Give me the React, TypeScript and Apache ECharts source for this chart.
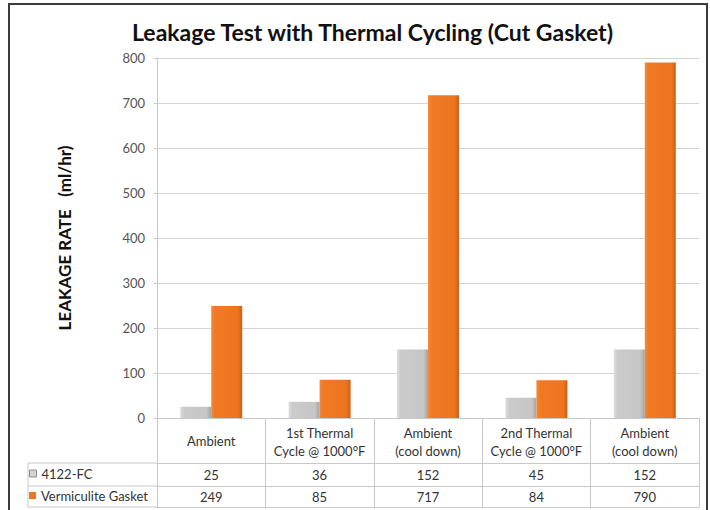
import React, { useEffect, useRef } from "react";
import * as echarts from "echarts";

const TITLE = "Leakage Test with Thermal Cycling (Cut Gasket)";
const Y_NAME = "LEAKAGE RATE   (ml/hr)";
const categories = [
  "Ambient",
  "1st Thermal\nCycle @ 1000°F",
  "Ambient\n(cool down)",
  "2nd Thermal\nCycle @ 1000°F",
  "Ambient\n(cool down)",
];
const seriesNames = ["4122-FC", "Vermiculite Gasket"];
const fc4122 = [25, 36, 152, 45, 152];
const vermiculite = [249, 85, 717, 84, 790];
const yMin = 0;
const yMax = 800;
const yInterval = 100;

const FONT = "Lato, 'Open Sans', sans-serif";
const LINE = "#c8c8c8";

export default function App() {
  const ref = useRef<HTMLDivElement>(null);
  useEffect(() => {
    document.body.style.margin = "0";
    if (!ref.current) return;
    const chart = echarts.init(ref.current, null, { renderer: "svg" });

    const gridLeft = 157;
    const gridTop = 58;
    const gridRight = 11;
    const gridBottom = 92;
    const rowH = [45, 23, 21];
    const axisY = 510 - gridBottom;
    const tableLeft = 28;

    const grayGrad = new echarts.graphic.LinearGradient(0, 0, 1, 0, [
      { offset: 0, color: "#dedede" },
      { offset: 0.12, color: "#cbcbcb" },
      { offset: 0.85, color: "#c6c6c6" },
      { offset: 1, color: "#a3a3a3" },
    ]);
    const orangeGrad = new echarts.graphic.LinearGradient(0, 0, 1, 0, [
      { offset: 0, color: "#f48a3c" },
      { offset: 0.12, color: "#f07a24" },
      { offset: 0.85, color: "#ee7520" },
      { offset: 1, color: "#cf5f14" },
    ]);

    const tableAxis = (offset: number, tickLen: number, vals: number[] | null, lh: number) => ({
      type: "category",
      gridIndex: 0,
      position: "bottom",
      offset,
      data: categories,
      boundaryGap: true,
      axisLine: { show: true, lineStyle: { color: LINE, width: 1 } },
      axisTick: { show: tickLen > 0, length: tickLen, interval: 0, lineStyle: { color: LINE } },
      axisLabel: vals
        ? {
            show: true,
            interval: 0,
            margin: 0,
            formatter: (_v: string, i: number) => String(vals[i]),
            fontFamily: FONT,
            fontSize: 13,
            color: "#333",
            lineHeight: lh,
          }
        : { show: false },
      splitLine: { show: false },
    });

    const legendText = { fontFamily: FONT, fontSize: 13, color: "#333" };

    const option: any = {
      animation: false,
      backgroundColor: "#fff",
      title: {
        text: TITLE,
        left: 127,
        top: 15,
        textStyle: { fontFamily: FONT, fontSize: 23, fontWeight: "bold", color: "#111" },
      },
      legend: [
        {
          left: 29,
          top: 467,
          padding: 0,
          itemWidth: 7,
          itemHeight: 7,
          itemGap: 0,
          icon: "rect",
          textStyle: legendText,
          data: [
            { name: seriesNames[0], itemStyle: { color: "#d4d4d4", borderColor: "#8f8f8f", borderWidth: 1 } },
          ],
        },
        {
          left: 29,
          top: 489,
          padding: 0,
          itemWidth: 7,
          itemHeight: 7,
          itemGap: 0,
          icon: "rect",
          textStyle: legendText,
          data: [{ name: seriesNames[1], itemStyle: { color: "#f07622" } }],
        },
      ],
      grid: { left: gridLeft, right: gridRight, top: gridTop, bottom: gridBottom, containLabel: false },
      xAxis: [
        {
          type: "category",
          data: categories,
          boundaryGap: true,
          axisLine: { show: true, lineStyle: { color: LINE } },
          axisTick: { show: true, length: rowH[0], interval: 0, lineStyle: { color: LINE } },
          axisLabel: {
            interval: 0,
            margin: 6,
            fontFamily: FONT,
            fontSize: 13,
            color: "#333",
            formatter: (v: string) =>
              v.includes("\n")
                ? v.split("\n").map((s) => `{b|${s}}`).join("\n")
                : `{a|${v}}`,
            rich: {
              a: { fontFamily: FONT, fontSize: 13, color: "#333", lineHeight: 33 },
              b: { fontFamily: FONT, fontSize: 13, color: "#333", lineHeight: 18 },
            },
          },
        },
        tableAxis(rowH[0], rowH[1], fc4122, rowH[1]),
        tableAxis(rowH[0] + rowH[1], rowH[2], vermiculite, rowH[2]),
        tableAxis(rowH[0] + rowH[1] + rowH[2], 0, null, 0),
      ],
      yAxis: {
        type: "value",
        min: yMin,
        max: yMax,
        interval: yInterval,
        name: Y_NAME,
        nameLocation: "middle",
        nameGap: 84,
        nameRotate: 90,
        nameTextStyle: { fontFamily: FONT, fontSize: 17, fontWeight: "bold", color: "#111" },
        axisLine: { show: true, lineStyle: { color: LINE } },
        axisTick: { show: true, length: 3, lineStyle: { color: LINE } },
        axisLabel: { fontFamily: FONT, fontSize: 13, color: "#555", margin: 12 },
        splitLine: { show: true, lineStyle: { color: "#d4d4d4", width: 1 } },
      },
      series: [
        {
          name: seriesNames[0],
          type: "bar",
          data: fc4122,
          barWidth: 31,
          barGap: "0%",
          itemStyle: { color: grayGrad },
        },
        {
          name: seriesNames[1],
          type: "bar",
          data: vermiculite,
          barWidth: 31,
          barGap: "0%",
          itemStyle: { color: orangeGrad },
        },
      ],
      graphic: [
        {
          type: "rect",
          shape: { x: 9, y: 4, width: 698, height: 520 },
          style: { fill: "none", stroke: "#3c3c3c", lineWidth: 2 },
          silent: true,
        },
        {
          type: "line",
          shape: { x1: tableLeft, y1: axisY + rowH[0], x2: gridLeft, y2: axisY + rowH[0] },
          style: { stroke: LINE, lineWidth: 1 },
        },
        {
          type: "line",
          shape: { x1: tableLeft, y1: axisY + rowH[0] + rowH[1], x2: gridLeft, y2: axisY + rowH[0] + rowH[1] },
          style: { stroke: LINE, lineWidth: 1 },
        },
        {
          type: "line",
          shape: {
            x1: tableLeft,
            y1: axisY + rowH[0] + rowH[1] + rowH[2],
            x2: gridLeft,
            y2: axisY + rowH[0] + rowH[1] + rowH[2],
          },
          style: { stroke: LINE, lineWidth: 1 },
        },
        {
          type: "line",
          shape: { x1: tableLeft, y1: axisY + rowH[0], x2: tableLeft, y2: axisY + rowH[0] + rowH[1] + rowH[2] },
          style: { stroke: LINE, lineWidth: 1 },
        },
      ],
    };
    chart.setOption(option);
    return () => chart.dispose();
  }, []);
  return <div ref={ref} style={{ width: 710, height: 510 }} />;
}
